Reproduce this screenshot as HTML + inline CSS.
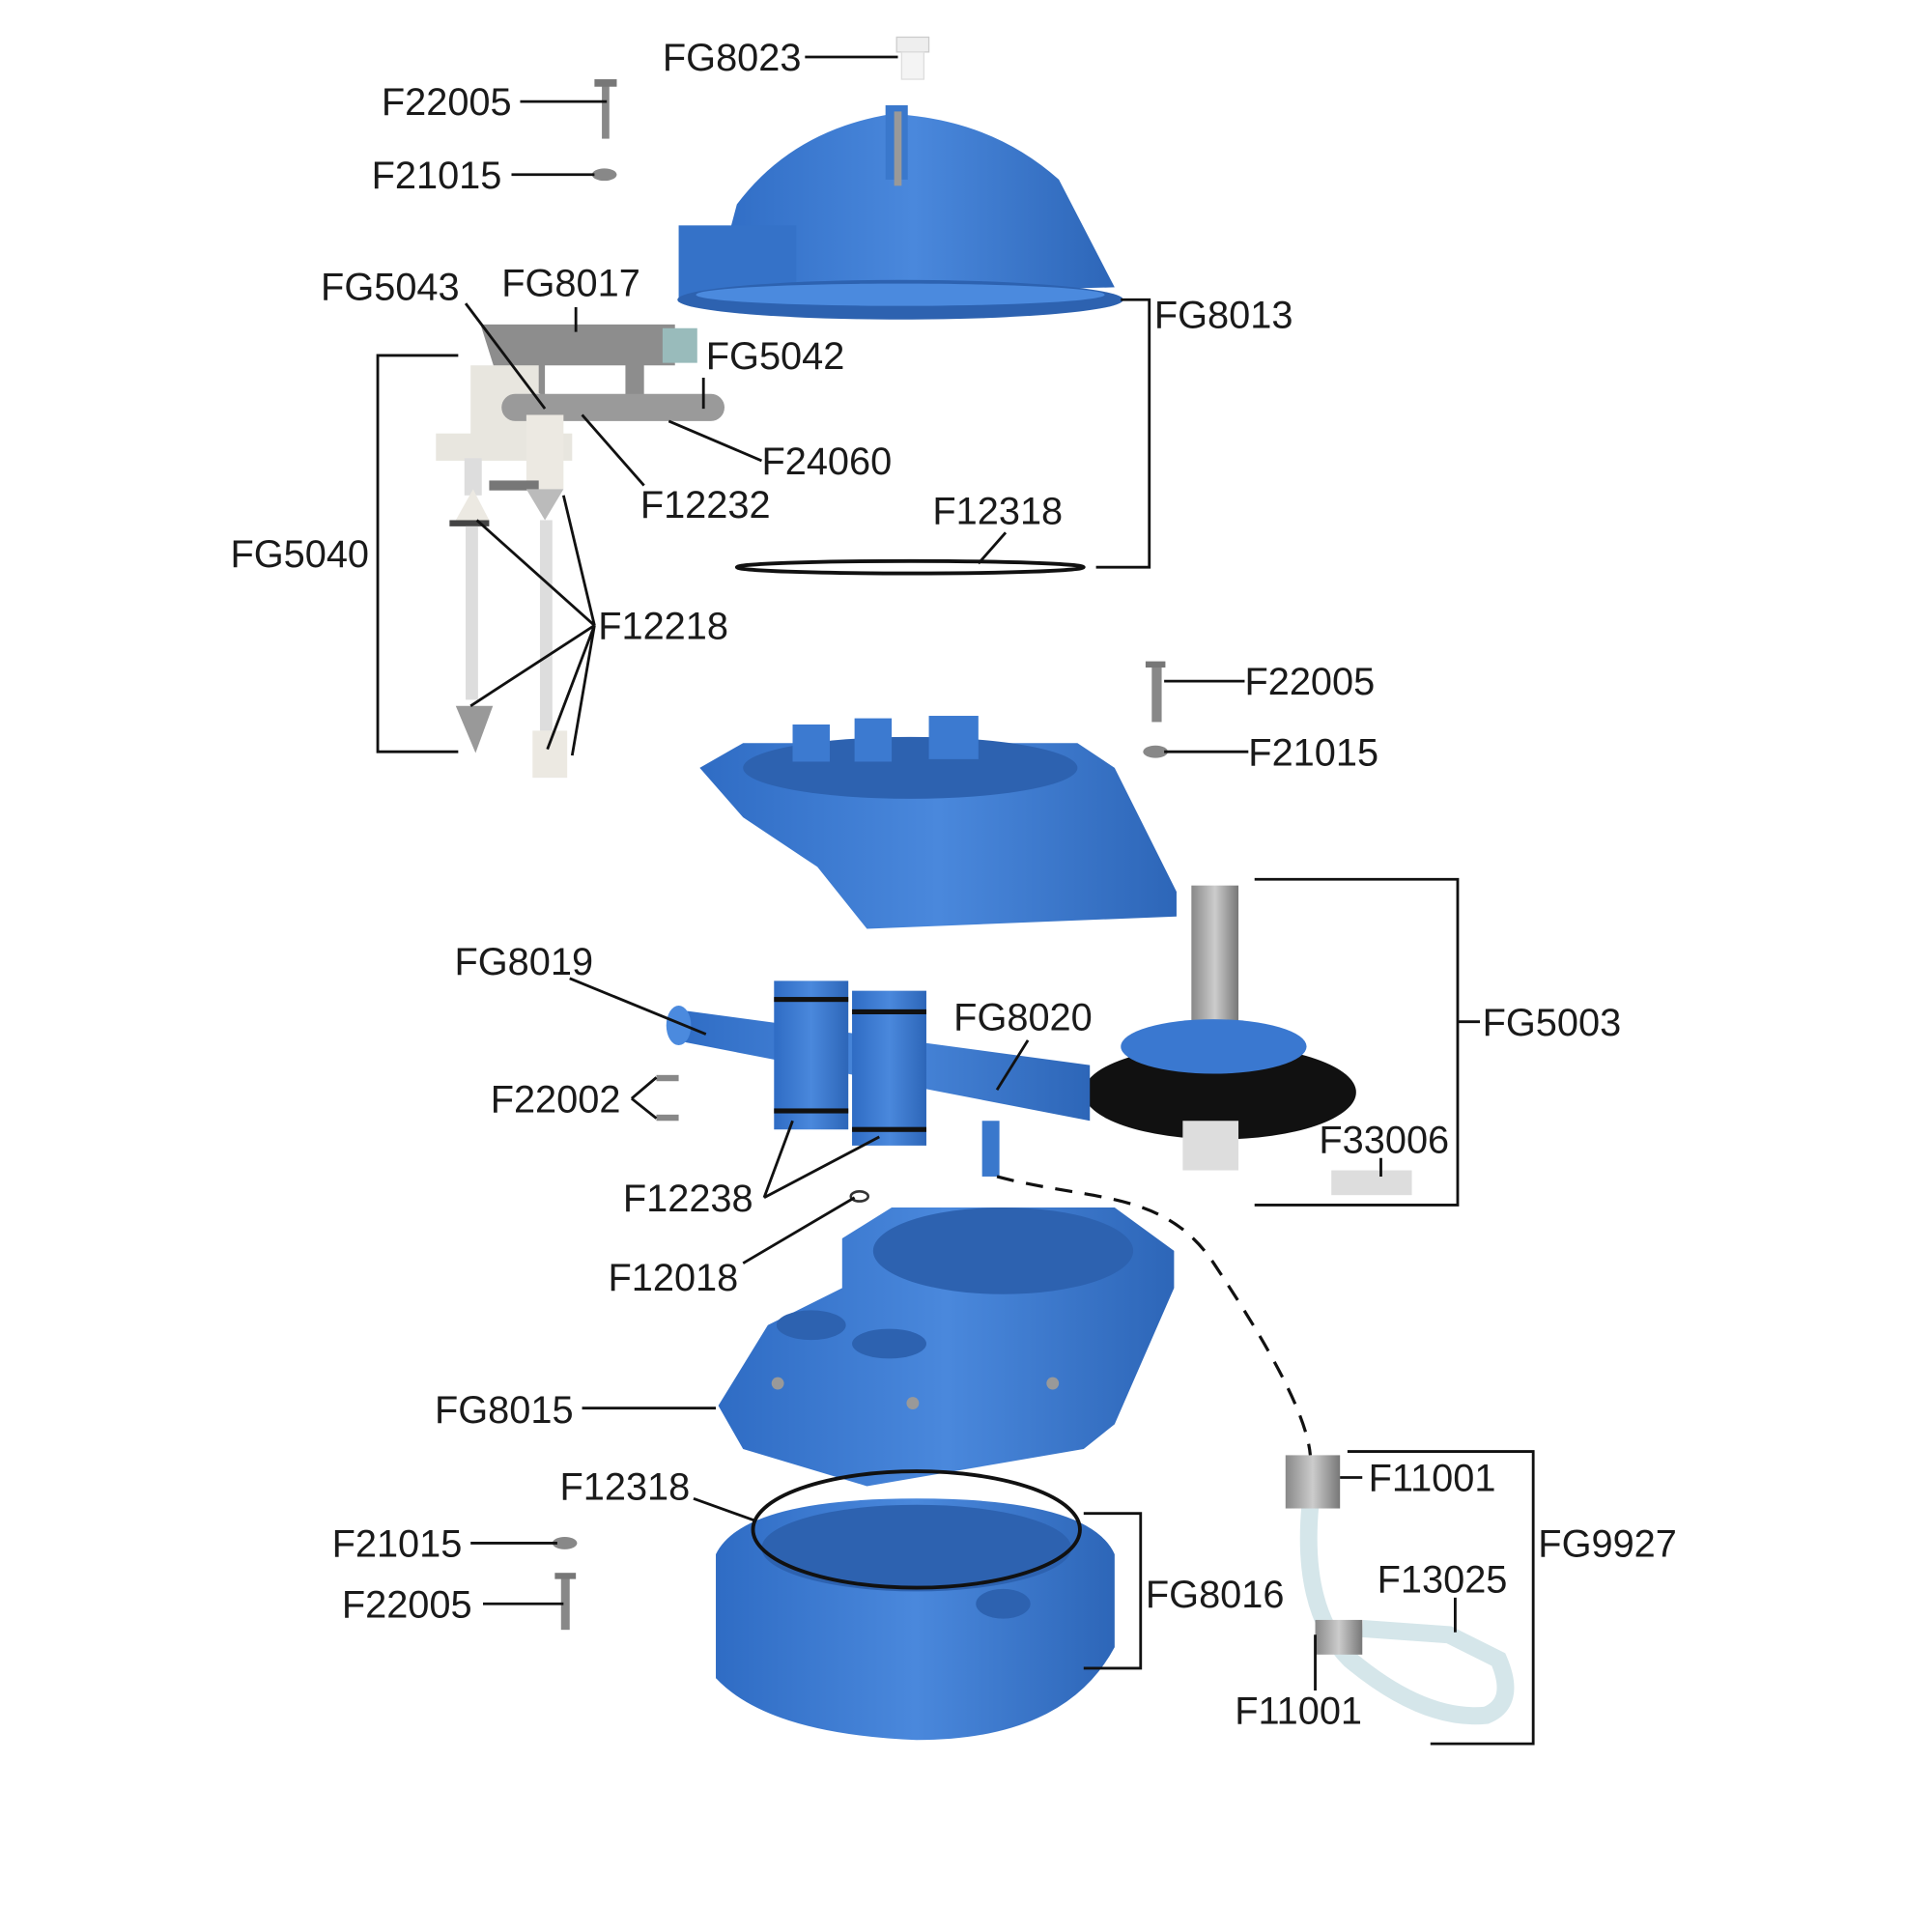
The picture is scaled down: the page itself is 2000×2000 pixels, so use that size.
<!DOCTYPE html>
<html><head><meta charset="utf-8"><style>
html,body{margin:0;padding:0;background:#fff}
svg{display:block}
text{font-family:"Liberation Sans",Arial,sans-serif;font-size:31px;fill:#1a1a1a}
.l{stroke:#111;stroke-width:2.2;fill:none}
</style></head><body>
<svg width="2000" height="2000" viewBox="0 0 1560 1560" xmlns="http://www.w3.org/2000/svg">
<defs>
<linearGradient id="b" x1="0" x2="1"><stop offset="0" stop-color="#2f6cc4"/><stop offset=".5" stop-color="#4a88dc"/><stop offset="1" stop-color="#2d66b8"/></linearGradient>
<linearGradient id="g" x1="0" x2="1"><stop offset="0" stop-color="#888"/><stop offset=".5" stop-color="#ccc"/><stop offset="1" stop-color="#777"/></linearGradient>
</defs>
<!-- top lid FG8013 -->
<rect x="724" y="30" width="26" height="12" fill="#eee" stroke="#ccc"/>
<rect x="728" y="42" width="18" height="22" fill="#f4f4f4" stroke="#ddd"/>
<path d="M575 240 L595 165 Q640 105 720 92 Q800 96 855 145 L900 232 Z" fill="url(#b)"/>
<rect x="715" y="85" width="18" height="60" fill="#3a78cc"/>
<rect x="722" y="90" width="6" height="60" fill="#999"/>
<rect x="548" y="182" width="95" height="62" fill="#3572c8"/>
<ellipse cx="727" cy="242" rx="180" ry="16" fill="#2d62b0"/>
<ellipse cx="727" cy="238" rx="165" ry="9" fill="#4b8ade"/>
<!-- F22005/F21015 top -->
<rect x="486" y="66" width="6" height="46" fill="#888"/><rect x="480" y="64" width="18" height="6" fill="#777"/>
<ellipse cx="488" cy="141" rx="10" ry="5" fill="#888"/>
<!-- mechanism FG5040 -->
<polygon points="388,262 545,262 545,295 520,295 520,330 505,330 505,295 440,295 440,320 400,300" fill="#8d8d8d"/>
<rect x="535" y="265" width="28" height="28" fill="#9bb"/>
<rect x="380" y="295" width="55" height="60" fill="#e8e6df"/>
<rect x="405" y="318" width="180" height="22" rx="11" fill="#9a9a9a"/>
<rect x="352" y="350" width="110" height="22" fill="#e8e6df"/>
<rect x="425" y="335" width="30" height="60" fill="#ece9e2"/>
<rect x="395" y="388" width="40" height="8" fill="#777"/>
<polygon points="425,395 455,395 440,420" fill="#bbb"/>
<rect x="436" y="420" width="10" height="170" fill="#ddd"/>
<rect x="430" y="590" width="28" height="38" fill="#ece9e2"/>
<rect x="375" y="370" width="14" height="30" fill="#ddd"/>
<polygon points="368,420 395,420 382,395" fill="#ece9e2"/>
<rect x="363" y="420" width="32" height="5" fill="#444"/>
<rect x="376" y="425" width="10" height="140" fill="#ddd"/>
<polygon points="368,570 398,570 384,608" fill="#999"/>
<!-- ring top -->
<ellipse cx="735" cy="458" rx="140" ry="5" fill="none" stroke="#111" stroke-width="3"/>
<!-- middle housing -->
<rect x="930" y="535" width="8" height="48" fill="#888"/><rect x="925" y="534" width="16" height="5" fill="#777"/>
<ellipse cx="933" cy="607" rx="10" ry="5" fill="#888"/>
<path d="M565 620 L600 600 L870 600 L900 620 L950 720 L950 740 L700 750 L660 700 L600 660 Z" fill="url(#b)"/>
<ellipse cx="735" cy="620" rx="135" ry="25" fill="#2d62b0"/>
<rect x="640" y="585" width="30" height="30" fill="#3c7ad0"/><rect x="690" y="580" width="30" height="35" fill="#3c7ad0"/><rect x="750" y="578" width="40" height="35" fill="#3c7ad0"/>
<!-- FG5003 -->
<rect x="962" y="715" width="38" height="115" fill="url(#g)"/>
<ellipse cx="985" cy="882" rx="110" ry="38" fill="#111"/>
<ellipse cx="980" cy="845" rx="75" ry="22" fill="#3a78d0"/>
<rect x="955" y="905" width="45" height="40" fill="#ddd"/>
<rect x="1075" y="945" width="65" height="20" fill="#ddd"/>
<!-- FG8019 pipe -->
<path d="M545 815 L880 860 L880 905 L545 840 Z" fill="url(#b)"/>
<ellipse cx="548" cy="828" rx="10" ry="16" fill="#4b8ade"/>
<rect x="625" y="792" width="60" height="120" fill="url(#b)"/>
<rect x="688" y="800" width="60" height="125" fill="url(#b)"/>
<rect x="625" y="805" width="60" height="4" fill="#111"/><rect x="625" y="895" width="60" height="4" fill="#111"/>
<rect x="688" y="815" width="60" height="4" fill="#111"/><rect x="688" y="910" width="60" height="4" fill="#111"/>
<rect x="793" y="905" width="14" height="45" fill="#3a78cc"/>
<rect x="530" y="868" width="18" height="5" fill="#888"/><rect x="530" y="900" width="18" height="5" fill="#888"/>
<ellipse cx="694" cy="966" rx="7" ry="4" fill="none" stroke="#333" stroke-width="2"/>
<!-- lower housing FG8015 -->
<path d="M580 1135 L620 1070 L680 1040 L680 1000 L720 975 L900 975 L948 1010 L948 1040 L900 1150 L875 1170 L700 1200 L600 1170 Z" fill="url(#b)"/>
<ellipse cx="810" cy="1010" rx="105" ry="35" fill="#2d62b0"/>
<ellipse cx="655" cy="1070" rx="28" ry="12" fill="#2d62b0"/><ellipse cx="718" cy="1085" rx="30" ry="12" fill="#2d62b0"/>
<circle cx="628" cy="1117" r="5" fill="#999"/><circle cx="737" cy="1133" r="5" fill="#999"/><circle cx="850" cy="1117" r="5" fill="#999"/>
<!-- bottom FG8016 -->
<path d="M578 1255 Q600 1210 740 1210 Q880 1210 900 1255 L900 1330 Q860 1405 740 1405 Q620 1400 578 1355 Z" fill="url(#b)"/>
<ellipse cx="740" cy="1250" rx="125" ry="35" fill="#2d62b0"/>
<ellipse cx="810" cy="1295" rx="22" ry="12" fill="#2d62b0"/>
<ellipse cx="740" cy="1235" rx="132" ry="47" fill="none" stroke="#111" stroke-width="3"/>
<ellipse cx="456" cy="1246" rx="10" ry="5" fill="#888"/>
<rect x="453" y="1272" width="7" height="44" fill="#888"/><rect x="448" y="1270" width="17" height="5" fill="#777"/>
<!-- FG9927 tube -->
<path d="M1058 1215 Q1050 1300 1090 1340 Q1150 1390 1200 1385 Q1225 1375 1210 1340 L1170 1320 L1100 1315" fill="none" stroke="#d5e6ea" stroke-width="14"/>
<rect x="1038" y="1175" width="44" height="43" fill="url(#g)"/>
<rect x="1062" y="1308" width="38" height="28" fill="url(#g)"/>
<path d="M805 950 C880 970 940 960 980 1020 S1055 1140 1058 1175" fill="none" stroke="#111" stroke-width="2.5" stroke-dasharray="14 10"/>
<!-- leaders -->
<g class="l">
<path d="M650 46H725M420 82H490M413 141H480"/>
<path d="M376 245L440 330M465 248V268M568 305V330M615 372L540 340M520 392L470 335M812 430L790 455"/>
<path d="M905 242H928V458H885M370 287H305V607H370"/>
<path d="M480 505L385 420M480 505L455 400M480 505L380 570M480 505L442 605M480 505L462 610"/>
<path d="M940 550H1005M940 607H1008M1013 710H1177V973H1013M1177 825H1195"/>
<path d="M460 790L570 835M830 840L805 880M510 887L530 870M510 887L530 903M1115 935V950"/>
<path d="M617 967L640 905M617 967L710 918M600 1020L690 967"/>
<path d="M470 1137H578M560 1210L610 1228M380 1246H450M390 1295H455"/>
<path d="M875 1222H921V1347H875M1082 1193H1100M1088 1172H1238V1408H1155M1175 1290V1318M1062 1365V1320"/>
</g>
<!-- labels -->
<text x="535" y="57">FG8023</text>
<text x="308" y="93">F22005</text>
<text x="300" y="152">F21015</text>
<text x="259" y="242">FG5043</text>
<text x="405" y="239">FG8017</text>
<text x="570" y="298">FG5042</text>
<text x="615" y="383">F24060</text>
<text x="517" y="418">F12232</text>
<text x="753" y="423">F12318</text>
<text x="932" y="265">FG8013</text>
<text x="186" y="458">FG5040</text>
<text x="483" y="516">F12218</text>
<text x="1005" y="561">F22005</text>
<text x="1008" y="618">F21015</text>
<text x="1197" y="836">FG5003</text>
<text x="367" y="787">FG8019</text>
<text x="770" y="832">FG8020</text>
<text x="396" y="898">F22002</text>
<text x="1065" y="931">F33006</text>
<text x="503" y="978">F12238</text>
<text x="491" y="1042">F12018</text>
<text x="351" y="1149">FG8015</text>
<text x="452" y="1211">F12318</text>
<text x="268" y="1257">F21015</text>
<text x="276" y="1306">F22005</text>
<text x="925" y="1298">FG8016</text>
<text x="1105" y="1204">F11001</text>
<text x="1242" y="1257">FG9927</text>
<text x="1112" y="1286">F13025</text>
<text x="997" y="1392">F11001</text>
</svg>
</body></html>
